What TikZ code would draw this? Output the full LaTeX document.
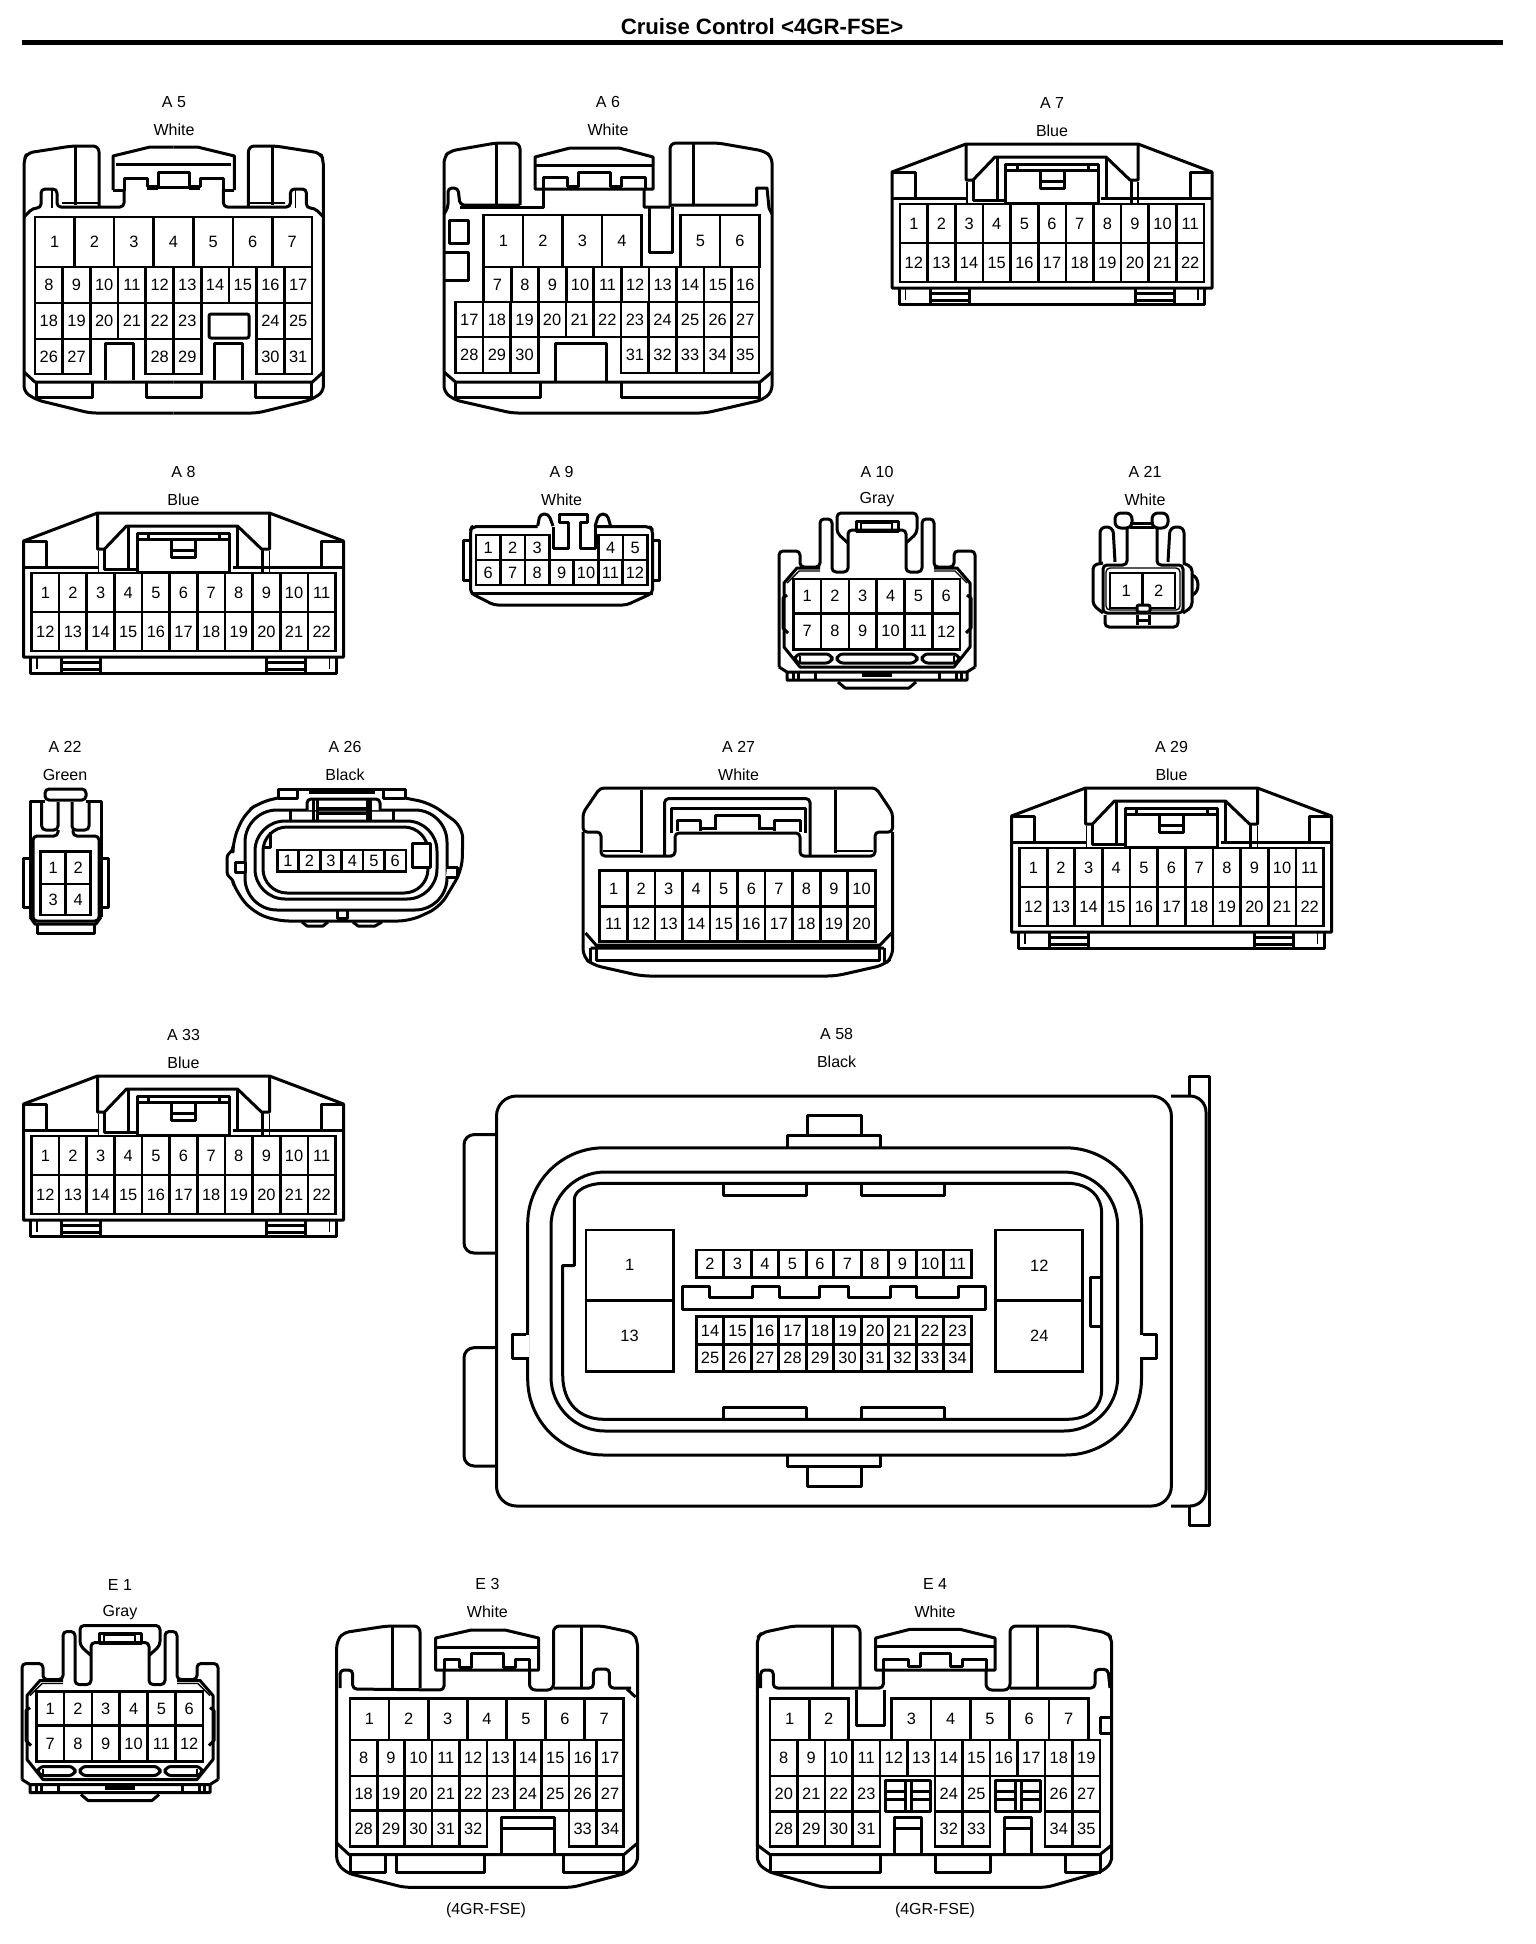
\documentclass[tikz,border=0pt]{standalone}
\usepackage{fontspec}
\setmainfont{Liberation Sans}
\usetikzlibrary{positioning}

\tikzset{
    conline/.style={line width=1.5pt, line join=round},
    thinline/.style={line width=.7pt, line join=round},
    pincell/.style={draw, rectangle, line width=1.35pt, inner sep=0pt, outer sep=0pt, anchor=north west, font=\fontsize{8.2}{10}\selectfont},
    contitle/.style={inner sep=0pt, font=\fontsize{8}{10}\selectfont}
}

% prefix, x, y, cell width, cell height, first, last
\newcommand{\pinrow}[7]{%
    \foreach \n in {#6,...,#7} {
        \pgfmathsetmacro{\pinx}{#2+(\n-#6)*#4}
        \node[pincell, minimum width={#4*0.5pt}, minimum height={#5*0.5pt}] (#1-\n) at (\pinx,#3) {\n};
    }%
}

% name, x, y, label, colour
\newcommand{\conlabel}[5]{%
    \node[contitle] (#1-title) at (#2,#3) {#4};
    \node[contitle] (#1-color) at (#2,#3+28) {#5};
}

% name, x, y of top left corner, label, colour
\newcommand{\bluecon}[5]{%
    \conlabel{#1}{#2+160}{#3-41}{#4}{#5}
    \begin{scope}[shift={(#2,#3)}]
        \draw[conline] (0,28) -- (74,0) -- (246,0) -- (320,28) -- (320,144) -- (0,144) -- cycle;
        \draw[conline] (7,144) -- (7,160) -- (312.5,160) -- (312.5,144);
        \draw[thinline] (13.5,144) -- (13.5,156) (306,144) -- (306,156);
        \foreach \tabx in {38,243} {
            \draw[conline] (\tabx,144) -- (\tabx,160) (\tabx+39,144) -- (\tabx+39,160);
            \draw[conline] (\tabx,149) -- (\tabx+39,149) (\tabx,156) -- (\tabx+39,156);
        }
        \draw[conline] (0,28) -- (23,28) -- (23,54) (298,54) -- (298,28) -- (320,28);
        \draw[conline] (0,54.5) -- (74,54.5) (246,54.5) -- (320,54.5);
        \draw[conline] (74,0) -- (74,36) -- (81,36) -- (103,13) -- (214,13) -- (238,36) -- (246,36) -- (246,0);
        \draw[thinline] (75,38) -- (75,59) (246,38) -- (246,59);
        \draw[conline] (81,36) -- (81,56) -- (114,56) (105,13) -- (105,56);
        \draw[conline] (214,13) -- (214,56) (209,54) -- (245,54) (239,36) -- (239,59);
        \draw[conline] (113.5,20) -- (206,20) -- (206,59) -- (113.5,59) -- cycle;
        \draw[conline] (113.5,26.7) -- (206,26.7) (125,20) -- (125,27) (196,20) -- (196,27);
        \draw[conline] (148,28) -- (148,44) -- (172,44) -- (172,28) (148,37) -- (172,37);
        \pinrow{#1}{8}{60}{27.64}{39}{1}{11}
        \pinrow{#1}{8}{99}{27.64}{39}{12}{22}
    \end{scope}
}

% name, x of centre line, y of top, label, colour
\newcommand{\graycon}[5]{%
    \conlabel{#1}{#2}{#3-41}{#4}{#5}
    \begin{scope}[shift={(#2,#3)}]
        \foreach \fs in {1,-1} {
            \begin{scope}[xscale=\fs]
                \draw[conline, rounded corners=2pt] (-98,154) -- (-98,38) -- (-77,38) -- (-77,54) -- (-57,54) -- (-57,6) -- (-45,6) -- (-45,59) -- (-29,59) -- (-29,17) -- (0,17);
                \draw[conline, rounded corners=2pt] (-29,30) -- (-40,20) -- (-40,0) -- (0,0);
                \draw[conline] (0,154) -- (-77,154) -- (-93,134) -- (-93,70) -- (-80,55) -- (-57,55);
                \draw[thinline] (-90,70) -- (-78,58) -- (-57,58);
                \draw[conline] (-90,82) -- (-94,85) -- (-94,115) -- (-89,120);
                \draw[conline] (-98,154) -- (-90,159) -- (0,159) (-90,159) -- (-90,167) -- (0,167);
                \draw[conline] (-84,159) -- (-84,167) (-79,159) -- (-79,167) (-62,159) -- (-62,167);
                \draw[conline] (-39,169) -- (-32,175) -- (0,175);
                \draw[conline, rounded corners=3pt] (-82,141) rectangle (-45,150);
                \draw[thinline] (-77,143) -- (-77,149);
            \end{scope}
        }
        \draw[conline, rounded corners=3pt] (-40,141) rectangle (40,150);
        \draw[conline] (-21,8) rectangle (21,18);
        \draw[thinline] (-16,10) rectangle (15,17);
        \fill (-15,160) rectangle (15,164);
        \pinrow{#1}{-83.7}{66}{27.8}{34.3}{1}{6}
        \pinrow{#1}{-83.7}{100.3}{27.8}{36}{7}{12}
    \end{scope}
}

\begin{document}
\begin{tikzpicture}[x=0.5pt, y=-0.5pt]
    \useasboundingbox[fill=white] (0,0) rectangle (1536,1944);

    %title
    \node[inner sep=0pt, font=\bfseries\fontsize{11.1}{13}\selectfont] (heading) at (762,27) {Cruise Control <4GR-FSE>};
    \draw[line width=2.5pt] (22,42.5) -- (1503,42.5);

    %A5
    \conlabel{A5}{174}{102}{A 5}{White}
    \foreach \fx/\fs in {0/1,347.4/-1} {
        \begin{scope}[shift={(\fx,0)}, xscale=\fs]
            \draw[conline, rounded corners=3pt] (99,207) -- (99,146) -- (72,146) -- (27,153) -- (24,160) -- (24,392) -- (37,400) -- (90,413) -- (173.7,413);
            \draw[conline] (75,146) -- (75,205);
            \draw[conline, rounded corners=2pt] (24,217) -- (33,208) -- (41,208) -- (41,189) -- (57,189) -- (57,207) -- (124,207) -- (124,190);
            \draw[thinline] (52,190) -- (52,208) (62,203) -- (99,203);
            \draw[conline] (113,190) -- (113,156) -- (150,147) -- (173.7,147);
            \draw[conline] (113,190) -- (124,190) -- (124,178) -- (147,178) -- (147,186) -- (158,186) -- (158,172) -- (173.7,172);
            \draw[conline] (147,188) -- (158,188) (158,187) -- (173.7,187) (116,164) -- (173.7,164);
            \draw[conline] (24,372) -- (35,382) -- (173.7,382);
            \draw[conline] (36,382) -- (36,397) -- (92,397) -- (92,382);
            \draw[conline] (146,382) -- (146,397) -- (173.7,397);
            \draw[conline] (105,380) -- (105,343) -- (133,343) -- (133,380);
        \end{scope}
    }
    \draw[conline, rounded corners=1pt] (209,314) rectangle (249,338);
    \pinrow{A5}{35}{217}{39.57}{50}{1}{7}
    \pinrow{A5}{35}{267}{27.7}{36}{8}{17}
    \pinrow{A5}{35}{303}{27.7}{36}{18}{23}
    \pinrow{A5}{256.6}{303}{27.7}{36}{24}{25}
    \pinrow{A5}{35}{339}{27.7}{35}{26}{27}
    \pinrow{A5}{145.8}{339}{27.7}{35}{28}{29}
    \pinrow{A5}{256.6}{339}{27.7}{35}{30}{31}

    %A6
    \conlabel{A6}{608}{102}{A 6}{White}
    \draw[conline, rounded corners=3pt] (520,205) -- (520,143) -- (496,143) -- (450,151) -- (444,157) -- (444,392) -- (455,400) -- (512,413) -- (705.5,413) -- (762,400) -- (772,392) -- (772,157) -- (764,151) -- (718,143) -- (670,143) -- (670,207);
    \draw[conline] (496,143) -- (496,205) (693,143) -- (693,205);
    \draw[conline, rounded corners=2pt] (444,214) -- (448,208) -- (448,188) -- (458,188) -- (460,205) -- (520,205);
    \draw[conline] (460,207) -- (543,207) -- (543,190);
    \draw[conline] (535,189) -- (535,157) -- (570,148) -- (619,148) -- (653,157) -- (653,189) -- cycle;
    \draw[conline] (535,165) -- (653,165);
    \draw[conline] (543,189) -- (543,177) -- (567,177) -- (567,186) -- (578,186) -- (578,172) -- (610,172) -- (610,186) -- (621,186) -- (621,177) -- (645,177) -- (645,189);
    \draw[conline] (644,189) -- (644,207) -- (670,207) (670,205) -- (756.5,205) -- (756.5,188) -- (767,188) -- (769,208) -- (772,214);
    \draw[conline] (649,207) -- (649,252) -- (672,252) -- (672,207);
    \draw[conline] (449,220) rectangle (468,243);
    \draw[conline] (445,252) -- (468,252) -- (468,280) -- (445,280);
    \draw[conline] (555,381) -- (555,343) -- (606,343) -- (606,381);
    \draw[conline] (444,372) -- (455.5,382) -- (760,382) -- (772,372);
    \draw[conline] (455.5,382) -- (455.5,397) -- (540,397) -- (540,382);
    \draw[conline] (621,382) -- (621,397) -- (759,397) -- (759,382);
    \pinrow{A6}{483.6}{215}{39.5}{52}{1}{4}
    \pinrow{A6}{680.6}{215}{39.5}{52}{5}{6}
    \pinrow{A6}{483.6}{267}{27.55}{35}{7}{16}
    \pinrow{A6}{455.5}{302}{27.6}{35}{17}{27}
    \pinrow{A6}{455.5}{337}{27.6}{36}{28}{30}
    \pinrow{A6}{621.1}{337}{27.6}{36}{31}{35}

    %blue ones
    \bluecon{A7}{892}{144}{A 7}{Blue}
    \bluecon{A8}{23.5}{513}{A 8}{Blue}
    \bluecon{A29}{1011.5}{788}{A 29}{Blue}
    \bluecon{A33}{23.5}{1076}{A 33}{Blue}

    %A9
    \conlabel{A9}{561.6}{471.7}{A 9}{White}
    \draw[conline, rounded corners=2pt] (537.7,526.7) -- (472,526.7) -- (470.5,530) -- (470.5,593) -- (494,605) -- (626.6,605) -- (652.6,593) -- (652.6,530) -- (650,526.7) -- (595,526.7);
    \draw[conline] (470.5,593) -- (652.6,593);
    \draw[conline] (470.5,540) -- (463,540) -- (463,580) -- (470.5,580);
    \draw[conline] (652.6,540) -- (659,540) -- (659,580) -- (652.6,580);
    \draw[conline, rounded corners=2pt] (537.7,526) -- (540,514) -- (548.6,514) -- (553,526);
    \draw[conline] (553,527) -- (553,548) -- (568,548) -- (568,522) -- (559.4,522) -- (559.4,514) -- (587.6,514) -- (587.6,522) -- (580,522) -- (580,548) -- (595,548) -- (595,526);
    \draw[conline, rounded corners=2pt] (595,526) -- (599,514) -- (607,514) -- (610.6,526);
    \pinrow{A9}{476}{535}{24.5}{25}{1}{3}
    \pinrow{A9}{598.4}{535}{24.5}{25}{4}{5}
    \pinrow{A9}{476}{560}{24.45}{25}{6}{12}

    %gray ones
    \graycon{A10}{877}{513}{A 10}{Gray}
    \graycon{E1}{120}{1625.5}{E 1}{Gray}

    %A21
    \conlabel{A21}{1145}{471.7}{A 21}{White}
    \draw[conline, rounded corners=3pt] (1115,513) rectangle (1132,528);
    \draw[conline, rounded corners=3pt] (1152,513) rectangle (1168,528);
    \draw[conline] (1130,523) -- (1154,523) (1130,527) -- (1154,527);
    \draw[conline, rounded corners=3pt] (1115,562) -- (1113,527) -- (1100,527) -- (1100,563);
    \draw[conline, rounded corners=3pt] (1168,562) -- (1170,527) -- (1184,527) -- (1184,563);
    \draw[conline, rounded corners=2pt] (1127,528) -- (1127,565) -- (1103,565) -- (1103,613) -- (1183,613) -- (1183,565) -- (1157,565) -- (1157,528);
    \draw[thinline, rounded corners=2pt] (1106,568) rectangle (1180,610);
    \draw[conline, rounded corners=2pt] (1103,563) -- (1093,565) -- (1093,605) -- (1103,613);
    \draw[conline, rounded corners=2pt] (1183,563) -- (1192,567) -- (1192,607) -- (1183,613);
    \draw[conline] (1192,575) .. controls (1200,577) and (1200,593) .. (1192,595);
    \draw[conline, rounded corners=2pt] (1105,615) -- (1105,627) -- (1178,627) -- (1178,615);
    \draw[conline] (1137,615) -- (1137,625) (1149,615) -- (1149,625) (1137,620) -- (1149,620);
    \pinrow{A21}{1110}{573}{32.5}{35}{1}{2}
    \draw[conline, fill=white, rounded corners=1pt] (1137,605) rectangle (1150,612);

    %A22
    \conlabel{A22}{65}{747}{A 22}{Green}
    \draw[conline, rounded corners=2pt] (45,789) rectangle (86,800);
    \draw[conline] (45,801) -- (30,801) -- (30,917) (86,801) -- (101,801) -- (101,917);
    \draw[conline, rounded corners=2pt] (41.7,802) -- (41.7,830) -- (58,830) -- (58,802) (72,802) -- (72,830) -- (89,830) -- (89,802);
    \draw[conline, rounded corners=2pt] (58,830) -- (58,836) -- (33,836) -- (33,921) -- (99,921) -- (99,836) -- (73,836) -- (73,830);
    \draw[conline] (30,917) -- (35,924) -- (96,924) -- (101,917);
    \draw[conline] (30,858) -- (23,858) -- (23,907) -- (30,907) (101,858) -- (108,858) -- (108,907) -- (101,907);
    \draw[conline] (37,925) -- (37,933) -- (94,933) -- (94,925);
    \pinrow{A22}{40.7}{851.7}{25}{32.3}{1}{2}
    \pinrow{A22}{40.7}{884}{25}{31}{3}{4}

    %A26
    \conlabel{A26}{345}{747}{A 26}{Black}
    \draw[conline, rounded corners=6pt] (278,798) -- (260,802) -- (245,813) -- (233,840) -- (233,846);
    \draw[conline, rounded corners=1.5pt] (233,846) -- (233,850) -- (227,855) -- (227,875) -- (233,880) -- (234,885);
    \draw[conline, rounded corners=6pt] (234,885) -- (237,893) -- (253,912) -- (277,921) -- (410,921) -- (440,907) -- (462,870) -- (463,827) -- (430,803) -- (405,798);
    \draw[conline] (278,798) -- (278,789) -- (405,789) -- (405,798) (278,798) -- (297,798) -- (297,790) (383,790) -- (383,798) -- (405,798);
    \fill (309,789) rectangle (375,794);
    \draw[conline, rounded corners=16pt] (245,810) rectangle (447,910);
    \draw[conline, rounded corners=15pt] (255,821) rectangle (437,899);
    \draw[conline, rounded corners=12pt] (263,827) rectangle (428,893);
    \draw[conline, fill=white, rounded corners=2pt] (307,810) -- (307,799) -- (380,799) -- (380,810);
    \draw[conline] (313,800) -- (313,820) (317,800) -- (317,820) (367,800) -- (367,820) (370,800) -- (370,820);
    \draw[conline] (317,808) -- (367,808) (317,813) -- (367,813) (290,810) -- (290,820) (393,810) -- (393,820);
    \draw[conline, fill=white] (235,862) rectangle (245,872);
    \draw[conline, fill=white] (447,867) -- (457,867) -- (457,877) -- (446,877);
    \draw[conline, fill=white] (412,843) rectangle (430,867);
    \draw[conline] (263,847) -- (270,847) -- (270,832);
    \draw[conline] (337,910) -- (337,918) -- (347,918) -- (347,910);
    \draw[conline] (302,922) -- (307,926) -- (323,926) -- (328,922) (353,922) -- (358,926) -- (375,926) -- (382,922);
    \pinrow{A26}{277.3}{850}{21.45}{21.7}{1}{6}

    %A27
    \conlabel{A27}{738.6}{747}{A 27}{White}
    \draw[conline, rounded corners=2pt] (601,856) -- (601,832) -- (583,832) -- (583,813) -- (600,788) -- (876,788) -- (892.6,813) -- (892.6,832) -- (875,832) -- (875,856) -- (800,856) -- (800,833) -- (675,833) -- (675,856) -- cycle;
    \draw[conline, rounded corners=4pt] (583,832) -- (583,957) -- (593,965) -- (641.6,976) -- (835.5,976) -- (884,965) -- (892.6,957) -- (892.6,832);
    \draw[conline] (641.6,790) -- (641.6,853) (835.5,790) -- (835.5,853);
    \draw[conline, rounded corners=2pt] (664.6,856) -- (664.6,798.6) -- (810,798.6) -- (810,856);
    \draw[thinline] (603,851) -- (641,851) (835,851) -- (873,851);
    \draw[conline] (671,833) -- (671,808) -- (805,808) -- (805,833);
    \draw[conline] (677,831) -- (677,820) -- (700,820) -- (700,831) (774,831) -- (774,820) -- (800,820) -- (800,832);
    \draw[conline] (715.6,830) -- (715.6,815) -- (759,815) -- (759,830) (700,828) -- (715.6,828) (759,828) -- (774,828);
    \draw[conline] (585.5,933) -- (596,945) -- (880,945) -- (891.6,933) (590.6,948) -- (884,948);
    \draw[conline] (590.6,948) -- (590.6,962) (596,948) -- (596,960) -- (879,960) -- (879,948) (884,948) -- (884,962);
    \pinrow{A27}{599.8}{870.7}{27.55}{36}{1}{10}
    \pinrow{A27}{599.8}{906.7}{27.55}{35}{11}{20}

    %A58
    \conlabel{A58}{836.6}{1034}{A 58}{Black}
    \draw[conline, rounded corners=10pt] (496.5,1096) rectangle (1171.4,1506);
    \draw[conline, rounded corners=5pt] (496.5,1134.6) -- (464,1134.6) -- (464,1253) -- (496.5,1253);
    \draw[conline, rounded corners=5pt] (496.5,1347.7) -- (464,1347.7) -- (464,1466) -- (496.5,1466);
    \draw[conline, rounded corners=8pt] (1171,1096) -- (1206,1096) -- (1206,1506) -- (1171,1506);
    \draw[conline] (1189,1096) -- (1189,1076.8) -- (1209,1076.8) -- (1209,1525) -- (1189,1525) -- (1189,1506);
    \draw[conline, rounded corners=38pt] (527.7,1147.8) rectangle (1141.5,1455);
    \draw[conline, fill=white] (527.7,1334.3) -- (512,1334.3) -- (512,1358.3) -- (527.7,1358.3);
    \draw[conline, fill=white] (1141.5,1334.3) -- (1156.5,1334.3) -- (1156.5,1358.3) -- (1141.5,1358.3);
    \draw[white, line width=1.7pt] (527.7,1335.3) -- (527.7,1357.3) (1141.5,1335.3) -- (1141.5,1357.3);
    \draw[conline] (787,1146.8) -- (787,1135.6) -- (880,1135.6) -- (880,1146.8) (807,1135.6) -- (807,1115.3) -- (861,1115.3) -- (861,1135.6);
    \draw[conline] (787,1456) -- (787,1466) -- (880,1466) -- (880,1456) (807,1466) -- (807,1486) -- (861,1486) -- (861,1466);
    \draw[conline, rounded corners=27pt] (551,1172) rectangle (1117.7,1431);
    \draw[conline] (604,1183.3) .. controls (588,1183.3) and (574.3,1190.4) .. (574.3,1199.5) -- (574.3,1265.5) -- (562.7,1265.5) -- (562.7,1375) .. controls (562.7,1403.4) and (580,1419.3) .. (604,1419.3) -- (1067,1419.3) .. controls (1090,1419.3) and (1101.7,1405.4) .. (1101.7,1390) -- (1101.7,1212.7) .. controls (1101.7,1197.5) and (1090,1183.3) .. (1067,1183.3) -- cycle;
    \foreach \tabx in {723.6,861.4} {
        \draw[conline] (\tabx,1184.3) -- (\tabx,1195.5) -- (\tabx+83,1195.5) -- (\tabx+83,1184.3);
        \draw[conline] (\tabx,1418.6) -- (\tabx,1407) -- (\tabx+83,1407) -- (\tabx+83,1418.6);
    }
    \draw[conline] (682.3,1286) -- (709.7,1286) -- (709.7,1297.3) -- (752,1297.3) -- (752,1286) -- (779.4,1286) -- (779.4,1297.3) -- (819.7,1297.3) -- (819.7,1286) -- (848,1286) -- (848,1297.3) -- (890.3,1297.3) -- (890.3,1286) -- (916.7,1286) -- (916.7,1297.3) -- (958.5,1297.3) -- (958.5,1286) -- (985.3,1286) -- (985.3,1309) -- (682.3,1309) -- cycle;
    \draw[conline] (1090.8,1277.6) rectangle (1101.7,1326);
    \node[pincell, minimum width=43.6pt, minimum height=35.3pt] (A58-1) at (586,1230) {1};
    \node[pincell, minimum width=43.6pt, minimum height=35.5pt] (A58-13) at (586,1300.7) {13};
    \node[pincell, minimum width=43.5pt, minimum height=35.3pt] (A58-12) at (995.8,1230) {12};
    \node[pincell, minimum width=43.5pt, minimum height=35.5pt] (A58-24) at (995.8,1300.7) {24};
    \pinrow{A58}{696.3}{1250}{27.5}{27.3}{2}{11}
    \pinrow{A58}{696.3}{1316.7}{27.5}{27.6}{14}{23}
    \pinrow{A58}{696.3}{1344.3}{27.5}{27.4}{25}{34}

    %E3
    \conlabel{E3}{487.4}{1584}{E 3}{White}
    \node[contitle] (E3-note) at (486,1910.7) {(4GR-FSE)};
    \draw[conline, rounded corners=3pt] (420,1688) -- (420,1626) -- (387,1626) -- (343,1632.7) -- (336.7,1641.7) -- (336.7,1863) -- (347,1873) -- (404,1887.3) -- (572.4,1887.3) -- (627,1873) -- (637.6,1863) -- (637.6,1641.7) -- (633.4,1632.7) -- (602,1626) -- (553.5,1626) -- (553.5,1690) -- (529.5,1690) -- (529.5,1670);
    \draw[conline] (392,1626) -- (392,1688) (581.6,1626) -- (581.6,1688);
    \draw[conline, rounded corners=2pt] (340,1688) -- (340,1670) -- (352.7,1670) -- (352.7,1689) -- (444,1690) -- (444,1670);
    \draw[conline] (435.6,1670) -- (435.6,1638) -- (471.4,1630) -- (505,1630) -- (538.7,1638) -- (538.7,1670) -- cycle;
    \draw[conline] (435.6,1647) -- (538.7,1647);
    \draw[conline] (444,1670) -- (444,1659) -- (459.6,1659) -- (459.6,1667) -- (471.4,1667) -- (471.4,1653) -- (503,1653) -- (503,1667) -- (515.6,1667) -- (515.6,1659) -- (529.5,1659) -- (529.5,1670);
    \draw[conline, rounded corners=2pt] (553.5,1688) -- (593.4,1688) -- (593.4,1669) -- (609.4,1669) -- (609.4,1688) -- (631,1688);
    \draw[conline] (627,1689) -- (635.5,1697);
    \draw[conline] (501.7,1853) -- (501.7,1817) -- (554.7,1817) -- (554.7,1853) (501.7,1828) -- (554.7,1828);
    \draw[conline] (336.7,1843) -- (349,1854.5) -- (624,1854.5) -- (637.6,1843);
    \draw[conline] (350,1855) -- (350,1872) -- (385,1872) -- (385,1855);
    \draw[conline] (396.5,1855) -- (396.5,1872) -- (484,1872) -- (484,1855);
    \draw[conline] (563,1855) -- (563,1872) -- (623.7,1872) -- (623.7,1855);
    \pinrow{E3}{350}{1698.3}{39.1}{41.7}{1}{7}
    \pinrow{E3}{350}{1740}{27.37}{36}{8}{17}
    \pinrow{E3}{350}{1776}{27.37}{34.7}{18}{27}
    \pinrow{E3}{350}{1810.7}{27.37}{36}{28}{32}
    \pinrow{E3}{569}{1810.7}{27.37}{36}{33}{34}

    %E4
    \conlabel{E4}{935}{1584}{E 4}{White}
    \node[contitle] (E4-note) at (935,1910.7) {(4GR-FSE)};
    \draw[conline, rounded corners=3pt] (860,1688) -- (860,1626) -- (793.3,1626) -- (761.7,1632.7) -- (757.3,1638) -- (757.3,1863) -- (768.3,1871.7) -- (823.3,1887.3) -- (1046.7,1887.3) -- (1101.7,1871.7) -- (1111.7,1863) -- (1111.7,1638) -- (1106.7,1632.7) -- (1071.7,1626) -- (1010,1626) -- (1010,1690) -- (986,1690) -- (986,1670);
    \draw[conline] (832.7,1626) -- (832.7,1688) (1037.3,1626) -- (1037.3,1688);
    \draw[conline, rounded corners=2pt] (760.7,1688) -- (760.7,1670) -- (773.3,1670) -- (773.3,1688) -- (883.3,1688) -- (883.3,1670);
    \draw[conline] (875.7,1670) -- (875.7,1638) -- (910,1629.3) -- (960,1629.3) -- (995,1638) -- (995,1670) -- cycle;
    \draw[conline] (875.7,1646) -- (995,1646);
    \draw[conline] (883.3,1669) -- (883.3,1659.3) -- (908.3,1659.3) -- (908.3,1666.7) -- (920,1666.7) -- (920,1653.3) -- (950.7,1653.3) -- (950.7,1666.7) -- (962.7,1666.7) -- (962.7,1659.3) -- (986.7,1659.3) -- (986.7,1670);
    \draw[conline, rounded corners=2pt] (1010,1688) -- (1095,1688) -- (1095,1669.3) -- (1108,1669.3) -- (1110,1688);
    \draw[conline] (856.7,1690) -- (856.7,1725) -- (884,1725) -- (884,1690);
    \draw[conline] (1110.7,1717.3) -- (1100,1717.3) -- (1100,1733.3) -- (1110.7,1733.3);
    \foreach \boxx in {885,995} {
        \draw[conline] (\boxx,1780.7) rectangle (\boxx+45.5,1811.7);
        \draw[conline] (\boxx+20,1780.7) -- (\boxx+20,1811.7) (\boxx+26,1780.7) -- (\boxx+26,1811.7);
        \draw[conline] (\boxx,1791.7) -- (\boxx+20,1791.7) (\boxx,1799.3) -- (\boxx+20,1799.3);
        \draw[conline] (\boxx+26,1791.7) -- (\boxx+45.5,1791.7) (\boxx+26,1799.3) -- (\boxx+45.5,1799.3);
        \draw[conline] (\boxx+9,1853.3) -- (\boxx+9,1817.3) -- (\boxx+36.7,1817.3) -- (\boxx+36.7,1853.3) (\boxx+9,1828.3) -- (\boxx+36.7,1828.3);
    }
    \draw[conline] (757.3,1845) -- (770,1854.5) -- (1100,1854.5) -- (1111.7,1845);
    \draw[conline] (770,1855) -- (770,1872) -- (880,1872) -- (880,1855);
    \draw[conline] (935,1855) -- (935,1872) -- (990,1872) -- (990,1855);
    \draw[conline] (1065,1855) -- (1065,1872) -- (1100,1872) -- (1100,1855);
    \pinrow{E4}{770}{1698.3}{39.2}{41.7}{1}{2}
    \pinrow{E4}{891.7}{1698.3}{39.3}{41.7}{3}{7}
    \pinrow{E4}{770}{1740}{27.5}{36}{8}{19}
    \pinrow{E4}{770}{1776}{27.5}{35.7}{20}{23}
    \pinrow{E4}{935}{1776}{27.5}{35.7}{24}{25}
    \pinrow{E4}{1045}{1776}{27.5}{35.7}{26}{27}
    \pinrow{E4}{770}{1811.7}{27.5}{35}{28}{31}
    \pinrow{E4}{935}{1811.7}{27.5}{35}{32}{33}
    \pinrow{E4}{1045}{1811.7}{27.5}{35}{34}{35}
\end{tikzpicture}
\end{document}
